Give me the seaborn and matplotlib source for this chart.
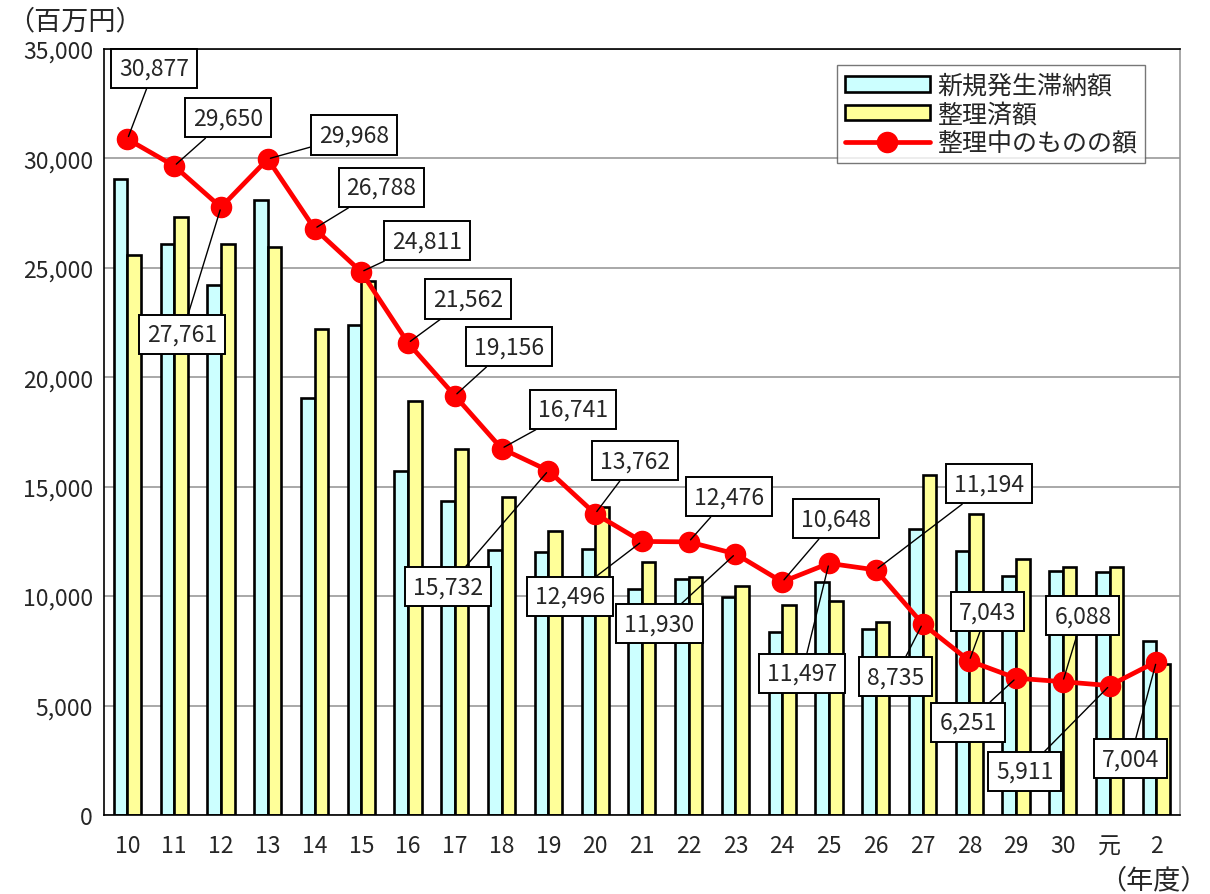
import numpy as np
import pandas as pd
import matplotlib
matplotlib.use("Agg")
import matplotlib.pyplot as plt
from matplotlib.ticker import FixedLocator, FuncFormatter
import seaborn as sns

years = ['10', '11', '12', '13', '14', '15', '16', '17', '18', '19', '20', '21',
         '22', '23', '24', '25', '26', '27', '28', '29', '30', '元', '2']
new_arrears = [29060, 26090, 24190, 28080, 19040, 22400, 15720, 14360, 12090, 12000,
               12150, 10330, 10780, 9940, 8350, 10630, 8500, 13070, 12080, 10930,
               11160, 11110, 7970]
settled = [25560, 27310, 26090, 25940, 22210, 24410, 18930, 16720, 14520, 12990,
           14050, 11570, 10890, 10480, 9610, 9790, 8800, 15530, 13750, 11700,
           11340, 11310, 6900]
remaining = [30877, 29650, 27761, 29968, 26788, 24811, 21562, 19156, 16741, 15732,
             13762, 12496, 12476, 11930, 10648, 11497, 11194, 8735, 7043, 6251,
             6088, 5911, 7004]

# label box offsets (pixels) from each point
label_dx = [27, 54, -39, 86, 67, 66, 60, 54, 71, -100, 40, -72, 40, -76, 54, -27,
            113, -27, 18, -48, 20, -85, -26]
label_dy = [71, 48, -127, 24, 41, 31, 44, 49, 39, -116, 53, -55, 45, -70, 63, -110,
            86, -53, 49, -44, 66, -86, -97]

sns.set_style("white")
plt.rcParams['font.family'] = ['Noto Sans CJK JP', 'DejaVu Sans']

df = pd.DataFrame({
    '年度': years * 2,
    '金額': new_arrears + settled,
    '区分': ['新規発生滞納額'] * len(years) + ['整理済額'] * len(years),
})

fig = plt.figure(figsize=(12.1, 8.95), dpi=100)
ax = fig.add_axes([0.086, 0.0883, 0.889, 0.856])

sns.barplot(data=df, x='年度', y='金額', hue='区分', order=years,
            palette=['#CCFFFF', '#FFFF99'], saturation=1, width=0.58,
            edgecolor='black', linewidth=1.9, ax=ax, legend=True, zorder=2)

xs = np.arange(len(years))
ax.plot(xs, remaining, color='#FF0000', linewidth=3.4, marker='o',
        markersize=14.5, zorder=4, label='整理中のものの額')

for i, v in enumerate(remaining):
    ax.annotate(f'{v:,}', xy=(i, v), xytext=(label_dx[i], label_dy[i]),
                textcoords='offset pixels', ha='center', va='center',
                fontsize=16.5, zorder=6,
                bbox=dict(boxstyle='square,pad=0.35', fc='white', ec='black', lw=1.4),
                arrowprops=dict(arrowstyle='-', color='black', lw=1.0,
                                shrinkA=0, shrinkB=2))

ax.set_xlim(-0.5, len(years) - 0.5)
ax.set_ylim(0, 35000)
ax.yaxis.set_major_locator(FixedLocator(np.arange(0, 35001, 5000)))
ax.yaxis.set_major_formatter(FuncFormatter(lambda v, p: f'{int(v):,}'))
ax.grid(axis='y', color='#999999', linewidth=1.2, zorder=0)
ax.set_axisbelow(True)

ax.set_xticks(xs)
ax.set_xticklabels(years)
ax.set_xticks(np.arange(0.5, len(years) - 1, 1), minor=True)
ax.tick_params(axis='x', which='major', length=0, pad=14, labelsize=16.5)
ax.tick_params(axis='x', which='minor', direction='in', length=6, color='#888888')
ax.tick_params(axis='y', which='major', length=0, pad=8, labelsize=16.5)
ax.set_xlabel('')
ax.set_ylabel('')

for side in ['left', 'bottom', 'top']:
    ax.spines[side].set_color('black')
    ax.spines[side].set_linewidth(1.2)
ax.spines['right'].set_color('#999999')
ax.spines['right'].set_linewidth(1.2)

handles, labels = ax.get_legend_handles_labels()
leg = ax.legend(handles, labels, loc='upper right', bbox_to_anchor=(0.972, 0.985),
                fontsize=18, frameon=True, fancybox=False, edgecolor='#555555',
                handlelength=3.4, handleheight=0.55, borderpad=0.3, labelspacing=0.1,
                handletextpad=0.3, borderaxespad=0.2)
leg.get_frame().set_linewidth(1.0)
leg.set_zorder(7)

fig.text(0.006, 0.976, '（百万円）', fontsize=19.5, ha='left', va='center')
fig.text(0.998, 0.016, '（年度）', fontsize=19.5, ha='right', va='center')

fig.savefig('out.png', dpi=100)
